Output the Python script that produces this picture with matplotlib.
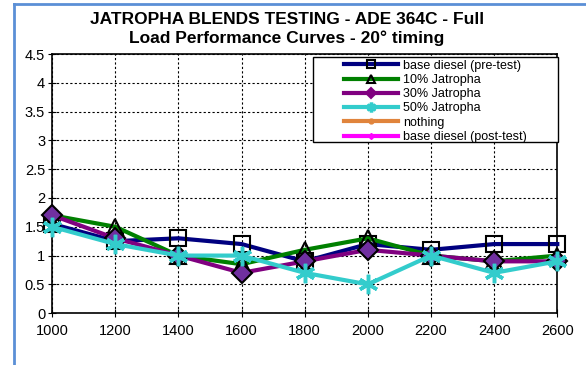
import numpy as np
import matplotlib
matplotlib.use("Agg")
import matplotlib.pyplot as plt
from matplotlib.lines import Line2D
from matplotlib.patches import Rectangle
from matplotlib.ticker import FuncFormatter

plt.rcParams["font.family"] = ["Liberation Sans", "DejaVu Sans"]

rpm = [1000, 1200, 1400, 1600, 1800, 2000, 2200, 2400, 2600]
base_pre = [1.55, 1.25, 1.3, 1.2, 0.9, 1.2, 1.1, 1.2, 1.2]
jat10 = [1.7, 1.5, 1.0, 0.85, 1.1, 1.3, 1.0, 0.9, 1.0]
jat30 = [1.7, 1.3, 1.0, 0.7, 0.9, 1.1, 1.0, 0.9, 0.9]
jat50 = [1.5, 1.2, 1.0, 1.0, 0.7, 0.5, 1.0, 0.7, 0.9]
nothing = [np.nan] * 9
base_post = [np.nan] * 9

fig = plt.figure(figsize=(5.86, 3.65), dpi=100)
ax = fig.add_axes([0.089, 0.142, 0.862, 0.710])

lw = 3
ax.plot(rpm, base_pre, color="#000080", lw=lw, marker="s", ms=11,
        mfc="none", mec="black", mew=1.5, label="base diesel (pre-test)",
        clip_on=False, zorder=3)
ax.plot(rpm, jat10, color="#008000", lw=lw, marker="^", ms=12,
        mfc="none", mec="black", mew=1.5, label="10% Jatropha",
        clip_on=False, zorder=3)
ax.plot(rpm, jat30, color="#800080", lw=lw, marker="D", ms=10,
        mfc="#7030A0", mec="black", mew=1.5, label="30% Jatropha",
        clip_on=False, zorder=3)
ax.plot(rpm, jat50, color="#33CCCC", lw=lw, marker=(6, 2, 0), ms=14,
        mec="#33CCCC", mew=2.5, label="50% Jatropha",
        clip_on=False, zorder=3)
ax.plot(rpm, nothing, color="#E0843C", lw=lw, marker="o", ms=7,
        label="nothing")
ax.plot(rpm, base_post, color="#FF00FF", lw=lw, marker="D", ms=6,
        label="base diesel (post-test)")

ax.set_xlim(1000, 2600)
ax.set_ylim(0, 4.5)
ax.set_xticks(rpm)
ax.set_yticks(np.arange(0, 4.51, 0.5))
ax.yaxis.set_major_formatter(FuncFormatter(lambda v, p: f"{v:g}"))
ax.tick_params(direction="inout", length=6, labelsize=10.5, colors="black",
               pad=2)
ax.tick_params(axis="x", pad=5)
ax.grid(True, color="black", linestyle=(0, (2, 2)), linewidth=0.8)
for s in ax.spines.values():
    s.set_linewidth(1.2)

# legend box drawn separately so it can be wider than its contents
ax.add_patch(Rectangle((0.517, 0.66), 0.485, 0.328, transform=ax.transAxes,
                       facecolor="white", edgecolor="black", lw=1.0,
                       zorder=4, clip_on=False))
leg = ax.legend(loc="upper left", bbox_to_anchor=(0.578, 0.978),
                fontsize=9, handlelength=4.3, markerscale=0.5,
                frameon=False, borderpad=0, labelspacing=0.18,
                handletextpad=0.45, borderaxespad=0)
leg.set_zorder(5)
for h in leg.legend_handles:
    h.set_markerfacecolor(h.get_color())
    h.set_markeredgecolor(h.get_color())
leg.legend_handles[0].set_markerfacecolor("none")
leg.legend_handles[0].set_markeredgecolor("black")
leg.legend_handles[1].set_markerfacecolor("none")
leg.legend_handles[1].set_markeredgecolor("black")

fig.text(0.49, 0.968, "JATROPHA BLENDS TESTING - ADE 364C - Full\n"
         "Load Performance Curves - 20\u00b0 timing",
         ha="center", va="top", fontsize=12.5, fontweight="bold",
         linespacing=1.3)

# blue frame edge of the screenshot
fig.add_artist(Line2D([0.024, 0.024], [0, 0.99], color="#5B8FD6", lw=2,
                      transform=fig.transFigure))
fig.add_artist(Line2D([0.024, 1], [0.99, 0.99], color="#5B8FD6", lw=2,
                      transform=fig.transFigure))

fig.savefig("out.png", dpi=100)
